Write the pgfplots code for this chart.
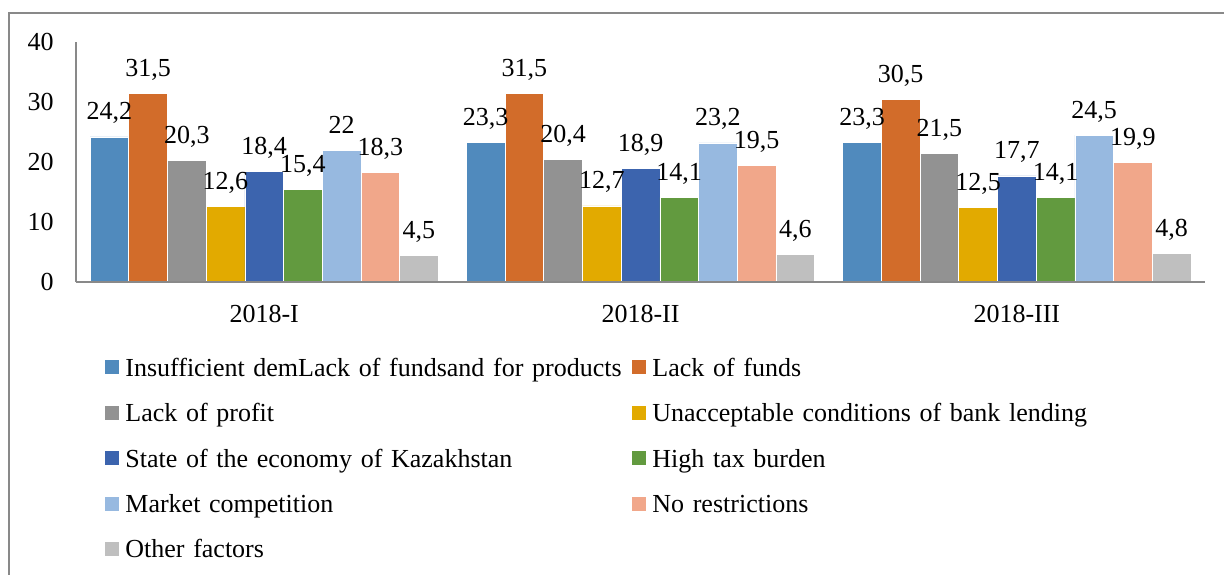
\documentclass[border=0pt]{standalone}
\usepackage{fontspec}
\setmainfont{Liberation Serif}
\usepackage{pgfplots}
\pgfplotsset{compat=1.18}

\definecolor{cA}{RGB}{80,138,189}
\definecolor{cB}{RGB}{210,108,42}
\definecolor{cC}{RGB}{146,146,146}
\definecolor{cD}{RGB}{226,170,0}
\definecolor{cE}{RGB}{60,100,174}
\definecolor{cF}{RGB}{98,154,63}
\definecolor{cG}{RGB}{151,185,224}
\definecolor{cH}{RGB}{241,167,138}
\definecolor{cI}{RGB}{191,191,191}
\definecolor{axisgray}{RGB}{137,137,137}

\begin{document}
\begin{tikzpicture}[font=\fontsize{13pt}{16pt}\selectfont]
\begin{axis}[
  at={(0pt,0pt)}, anchor=south west,
  scale only axis,
  width=564.5pt, height=120pt,
  ybar=0pt, bar width=19.35pt,
  xmin=-0.5, xmax=2.5,
  ymin=0, ymax=40,
  xtick={0,1,2},
  xticklabels={2018-I,2018-II,2018-III},
  ytick={0,10,20,30,40},
  axis lines*=left,
  axis on top,
  x axis line style={draw=axisgray, line width=0.9pt},
  y axis line style={draw=axisgray, line width=0.6pt},
  major tick length=0pt,
  /pgf/number format/.cd, use comma, precision=1, assume math mode=true, /pgfplots/.cd,
  yticklabel style={xshift=-7.6pt},
  xticklabel style={yshift=-8pt},
  nodes near coords,
  nodes near coords style={anchor=base, yshift=8.5pt, black},
  every axis plot/.append style={draw=white, line width=0.3pt},
  legend columns=2,
  legend cell align=left,
  legend image code/.code={\fill[#1,draw=none] (0pt,-3.5pt) rectangle (7pt,3.5pt);},
  legend style={
    at={(rel axis cs:0,0)}, anchor=north west,
    xshift=14.5pt, yshift=-35.9pt,
    draw=none, fill=none, inner sep=0pt,
    column sep=3pt, row sep=9.5pt,
    nodes={inner sep=0pt, text width=250.5pt, align=left, text height=11pt, text depth=2.2pt},
  },
]
\addplot[fill=cA] coordinates {(0,24.2) (1,23.3) (2,23.3)};
\addlegendentry{\mbox{Insufficient demLack of fundsand for products}}
\addplot[fill=cB] coordinates {(0,31.5) (1,31.5) (2,30.5)};
\addlegendentry{Lack of funds}
\addplot[fill=cC] coordinates {(0,20.3) (1,20.4) (2,21.5)};
\addlegendentry{Lack of profit}
\addplot[fill=cD] coordinates {(0,12.6) (1,12.7) (2,12.5)};
\addlegendentry{\mbox{Unacceptable conditions of bank lending}}
\addplot[fill=cE] coordinates {(0,18.4) (1,18.9) (2,17.7)};
\addlegendentry{\mbox{State of the economy of Kazakhstan}}
\addplot[fill=cF] coordinates {(0,15.4) (1,14.1) (2,14.1)};
\addlegendentry{High tax burden}
\addplot[fill=cG] coordinates {(0,22) (1,23.2) (2,24.5)};
\addlegendentry{Market competition}
\addplot[fill=cH] coordinates {(0,18.3) (1,19.5) (2,19.9)};
\addlegendentry{No restrictions}
\addplot[fill=cI] coordinates {(0,4.5) (1,4.6) (2,4.8)};
\addlegendentry{Other factors}
\end{axis}
\draw[axisgray, line width=0.7pt] (-33.5pt,-160pt) -- (-33.5pt,134.5pt) -- (590pt,134.5pt);
\pgfresetboundingbox
\useasboundingbox (-38pt,-146pt) rectangle (574pt,141pt);
\end{tikzpicture}
\end{document}
